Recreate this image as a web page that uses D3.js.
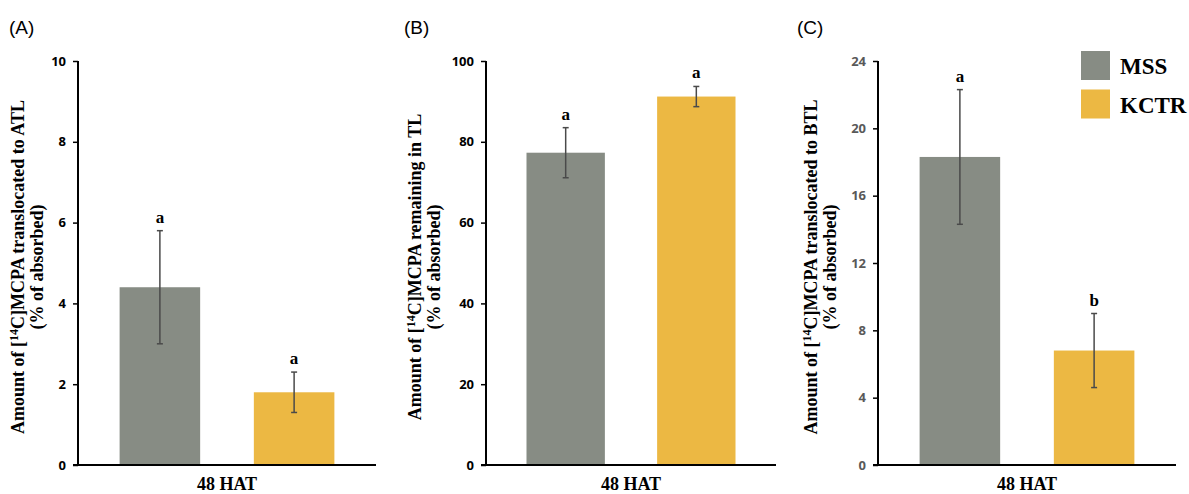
<!DOCTYPE html>
<html>
<head>
<meta charset="utf-8">
<script src="https://cdn.jsdelivr.net/npm/d3@7"></script>
<style>
  body { margin: 0; background: #fff; }
  svg { display: block; }
</style>
</head>
<body>
<div id="chart"></div>
<script>
// ---------------------------------------------------------------------------
// data (48 HAT, % of absorbed)
// ---------------------------------------------------------------------------
var groups = ["MSS", "KCTR"];
var colors = ["#878c84", "#ecb843"];

var atlMean = [4.4, 1.8],   atlErr = [1.4, 0.5],   atlLetter = ["a", "a"];
var tlMean  = [77.3, 91.2], tlErr  = [6.2, 2.5],   tlLetter  = ["a", "a"];
var btlMean = [18.3, 6.8],  btlErr = [4.0, 2.2],   btlLetter = ["a", "b"];

var atlTicks = [0, 2, 4, 6, 8, 10];
var tlTicks  = [0, 20, 40, 60, 80, 100];
var btlTicks = [0, 4, 8, 12, 16, 20, 24];

var xLabel = "48 HAT";

// ---------------------------------------------------------------------------
// layout  (note: "top" is taken by window.top, so plotTop/plotBottom)
// ---------------------------------------------------------------------------
var W = 1189, H = 494,
    plotTop = 61, plotBottom = 465,
    serif = "'Liberation Serif', 'Times New Roman', serif",
    sans  = "'Open Sans', 'Liberation Sans', sans-serif";

var panels = [
  { tag: "(A)", tagX: 9,   x0: 78,  x1: 376,  mean: atlMean, err: atlErr, letters: atlLetter,
    ticks: atlTicks, max: 10, tickColor: "#000", where: "translocated to ATL", labelX: 24 },
  { tag: "(B)", tagX: 404, x0: 486, x1: 776,  mean: tlMean, err: tlErr, letters: tlLetter,
    ticks: tlTicks, max: 100, tickColor: "#000", where: "remaining in TL", labelX: 421 },
  { tag: "(C)", tagX: 797, x0: 878, x1: 1176, mean: btlMean, err: btlErr, letters: btlLetter,
    ticks: btlTicks, max: 24, tickColor: "#595959", where: "translocated to BTL", labelX: 817 }
];

var svg = d3.select("#chart").append("svg")
  .attr("width", W).attr("height", H);

panels.forEach(drawPanel);
drawLegend();

// ---------------------------------------------------------------------------
// one bar panel
// ---------------------------------------------------------------------------
function drawPanel(p) {
  var g = svg.append("g");

  var y = d3.scaleLinear().domain([0, p.max]).range([plotBottom, plotTop]);
  var x = d3.scaleBand().domain(groups).range([p.x0, p.x1])
            .paddingInner(0.4).paddingOuter(0.31);

  // panel tag
  g.append("text")
    .attr("x", p.tagX).attr("y", 34)
    .style("font-family", "'Liberation Sans', Arial, sans-serif")
    .style("font-size", "19px")
    .text(p.tag);

  // bars
  g.selectAll("rect.bar").data(groups).enter().append("rect")
    .attr("class", "bar")
    .attr("x", function(d) { return x(d); })
    .attr("width", x.bandwidth())
    .attr("y", function(d, i) { return y(p.mean[i]); })
    .attr("height", function(d, i) { return y(0) - y(p.mean[i]); })
    .attr("fill", function(d, i) { return colors[i]; });

  // error bars
  var eb = g.selectAll("g.err").data(groups).enter().append("g")
    .attr("class", "err")
    .attr("stroke", "#4a4a4a").attr("stroke-width", 1.5);
  eb.append("line")
    .attr("x1", cx).attr("x2", cx)
    .attr("y1", function(d, i) { return y(p.mean[i] + p.err[i]); })
    .attr("y2", function(d, i) { return y(p.mean[i] - p.err[i]); });
  [1, -1].forEach(function(s) {
    eb.append("line")
      .attr("x1", function(d) { return cx(d) - 3; })
      .attr("x2", function(d) { return cx(d) + 3; })
      .attr("y1", function(d, i) { return y(p.mean[i] + s * p.err[i]); })
      .attr("y2", function(d, i) { return y(p.mean[i] + s * p.err[i]); });
  });

  // significance letters
  g.selectAll("text.letter").data(groups).enter().append("text")
    .attr("class", "letter")
    .attr("x", cx)
    .attr("y", function(d, i) { return y(p.mean[i] + p.err[i]) - 8; })
    .attr("text-anchor", "middle")
    .style("font-family", serif).style("font-weight", "bold")
    .style("font-size", "17px")
    .text(function(d, i) { return p.letters[i]; });

  // y axis
  var ya = g.append("g")
    .attr("transform", "translate(" + p.x0 + ",0)")
    .call(d3.axisLeft(y).tickValues(p.ticks).tickSize(5).tickPadding(7));
  ya.select(".domain").remove();
  ya.selectAll(".tick line").attr("stroke", "#000").attr("stroke-width", 1.5);
  ya.selectAll(".tick text")
    .attr("fill", p.tickColor)
    .style("font-family", sans).style("font-weight", "bold")
    .style("font-size", "13px");
  g.append("line")
    .attr("x1", p.x0).attr("x2", p.x0)
    .attr("y1", plotTop).attr("y2", plotBottom)
    .attr("stroke", "#000").attr("stroke-width", 2);

  // x axis line
  g.append("line")
    .attr("x1", p.x0 - 5).attr("x2", p.x1)
    .attr("y1", plotBottom).attr("y2", plotBottom)
    .attr("stroke", "#000").attr("stroke-width", 2);

  g.append("text")
    .attr("x", (p.x0 + p.x1) / 2).attr("y", 490)
    .attr("text-anchor", "middle")
    .style("font-family", serif).style("font-weight", "bold")
    .style("font-size", "18px")
    .text(xLabel);

  // y axis title, two lines
  var yc = (plotTop + plotBottom) / 2 + 4;
  var t1 = g.append("text")
    .attr("transform", "translate(" + p.labelX + "," + yc + ") rotate(-90)")
    .attr("text-anchor", "middle")
    .style("font-family", serif).style("font-weight", "bold")
    .style("font-size", "18px");
  t1.append("tspan").text("Amount of [");
  t1.append("tspan").attr("dy", -6).style("font-size", "12px").text("14");
  t1.append("tspan").attr("dy", 6).text("C]MCPA " + p.where);

  g.append("text")
    .attr("transform", "translate(" + (p.labelX + 19) + "," + yc + ") rotate(-90)")
    .attr("text-anchor", "middle")
    .style("font-family", serif).style("font-weight", "bold")
    .style("font-size", "18px")
    .text("(% of absorbed)");

  function cx(d) { return x(d) + x.bandwidth() / 2; }
}

// ---------------------------------------------------------------------------
// legend
// ---------------------------------------------------------------------------
function drawLegend() {
  var lg = svg.append("g").attr("transform", "translate(1081,51)");
  var row = lg.selectAll("g").data(groups).enter().append("g")
    .attr("transform", function(d, i) { return "translate(0," + i * 38.5 + ")"; });
  row.append("rect")
    .attr("width", 29).attr("height", 29)
    .attr("fill", function(d, i) { return colors[i]; });
  row.append("text")
    .attr("x", 39).attr("y", 23)
    .style("font-family", serif).style("font-weight", "bold")
    .style("font-size", "23px")
    .text(function(d) { return d; });
}
</script>
</body>
</html>
